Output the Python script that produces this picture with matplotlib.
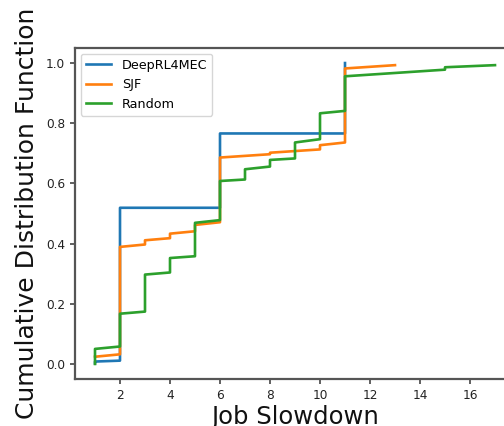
import matplotlib
matplotlib.use("Agg")
import matplotlib.pyplot as plt

# Corner points of the empirical CDF curves (x = job slowdown, y = CDF)
deep_x = [1, 1, 2, 2, 6, 6, 11, 11]
deep_y = [0.002, 0.008, 0.011, 0.519, 0.519, 0.766, 0.766, 1.0]

sjf_x = [1, 2, 2, 3, 3, 4, 4, 5, 5, 6, 6, 8, 8, 10, 10, 11, 11, 13]
sjf_y = [0.024, 0.032, 0.389, 0.397, 0.411, 0.418, 0.433, 0.441, 0.462, 0.471,
         0.686, 0.697, 0.702, 0.713, 0.727, 0.736, 0.982, 0.993]

rand_x = [1, 1, 2, 2, 3, 3, 4, 4, 5, 5, 6, 6, 7, 7, 8, 8, 9, 9, 10, 10, 11, 11, 15, 15, 17]
rand_y = [0.0, 0.05, 0.058, 0.167, 0.174, 0.297, 0.304, 0.352, 0.358, 0.469, 0.478,
          0.608, 0.613, 0.647, 0.656, 0.678, 0.683, 0.736, 0.747, 0.833, 0.841,
          0.956, 0.978, 0.986, 0.993]

labels = ["DeepRL4MEC", "SJF", "Random"]
xticks = [2, 4, 6, 8, 10, 12, 14, 16]
yticks = [0.0, 0.2, 0.4, 0.6, 0.8, 1.0]

fig = plt.figure(figsize=(5.04, 4.26), dpi=100)
ax = fig.add_axes([75/504, 1 - 379/426, 440/504, 331/426])

ax.plot(deep_x, deep_y, color="#1f77b4", lw=1.9, label=labels[0])
ax.plot(sjf_x, sjf_y, color="#ff7f0e", lw=1.9, label=labels[1])
ax.plot(rand_x, rand_y, color="#2ca02c", lw=1.9, label=labels[2])

ax.set_xlim(0.2, 17.8)
ax.set_ylim(-0.05, 1.05)
ax.set_xticks(xticks)
ax.set_xticklabels([str(t) for t in xticks])
ax.set_yticks(yticks)
ax.set_yticklabels([f"{t:.1f}" for t in yticks])
ax.tick_params(labelsize=8.7, colors="#444444", labelcolor="#222222", width=1.2, length=3.5)

for s in ax.spines.values():
    s.set_color("#555555")
    s.set_linewidth(1.6)

ax.set_xlabel("Job Slowdown", fontsize=17.5, color="#111111", labelpad=2.5)
ax.set_ylabel("Cumulative Distribution Function", fontsize=18, color="#111111", labelpad=5)

ax.legend(loc="upper left", fontsize=9.2, frameon=True, handlelength=2.0,
          borderaxespad=0.45)

fig.savefig("out.png", dpi=100)
